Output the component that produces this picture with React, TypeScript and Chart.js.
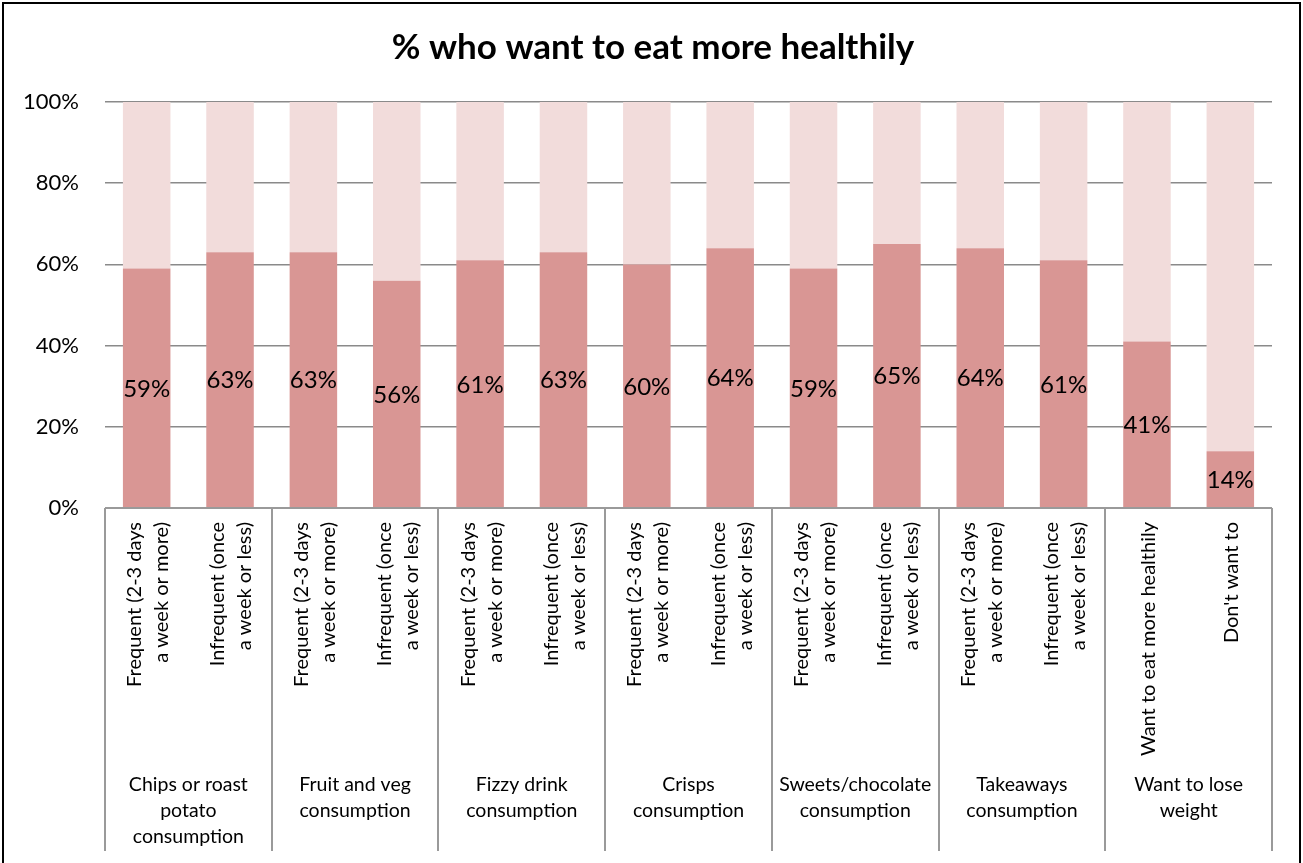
import React, { useEffect, useRef } from "react";
import { Chart, registerables } from "chart.js";

Chart.register(...registerables);

const chartTitle = "% who want to eat more healthily";

const categoryLabels: string[][] = [
  ["Frequent (2-3 days", "a week or more)"],
  ["Infrequent (once", "a week or less)"],
  ["Frequent (2-3 days", "a week or more)"],
  ["Infrequent (once", "a week or less)"],
  ["Frequent (2-3 days", "a week or more)"],
  ["Infrequent (once", "a week or less)"],
  ["Frequent (2-3 days", "a week or more)"],
  ["Infrequent (once", "a week or less)"],
  ["Frequent (2-3 days", "a week or more)"],
  ["Infrequent (once", "a week or less)"],
  ["Frequent (2-3 days", "a week or more)"],
  ["Infrequent (once", "a week or less)"],
  ["Want to eat more healthily"],
  ["Don't want to"],
];

const groupLabels: string[][] = [
  ["Chips or roast", "potato", "consumption"],
  ["Fruit and veg", "consumption"],
  ["Fizzy drink", "consumption"],
  ["Crisps", "consumption"],
  ["Sweets/chocolate", "consumption"],
  ["Takeaways", "consumption"],
  ["Want to lose", "weight"],
];

const groupSizes = [2, 2, 2, 2, 2, 2, 2];

const wantMore = [59, 63, 63, 56, 61, 63, 60, 64, 59, 65, 64, 61, 41, 14];
const notWant = [41, 37, 37, 44, 39, 37, 40, 36, 41, 35, 36, 39, 59, 86];

const yTicks = [0, 20, 40, 60, 80, 100];

const FONT = "Lato, 'Noto Sans', sans-serif";

const decorPlugin = {
  id: "decor",
  afterDatasetsDraw(chart: any) {
    const ctx = chart.ctx;
    const meta = chart.getDatasetMeta(0);
    ctx.save();
    ctx.fillStyle = "#000";
    ctx.font = `24px ${FONT}`;
    ctx.textAlign = "center";
    ctx.textBaseline = "middle";
    meta.data.forEach((bar: any, i: number) => {
      const y = (bar.y + bar.base) / 2;
      ctx.fillText(wantMore[i] + "%", bar.x, y + 1);
    });
    ctx.restore();
  },
  afterDraw(chart: any) {
    const ctx = chart.ctx;
    const area = chart.chartArea;
    const xs = chart.scales.x;
    ctx.save();

    // outer border
    ctx.strokeStyle = "#000";
    ctx.lineWidth = 2;
    ctx.beginPath();
    ctx.moveTo(3, 900);
    ctx.lineTo(3, 3);
    ctx.lineTo(1300, 3);
    ctx.lineTo(1300, 900);
    ctx.stroke();

    // title
    ctx.fillStyle = "#000";
    ctx.font = `bold 35px ${FONT}`;
    ctx.textAlign = "center";
    ctx.textBaseline = "middle";
    ctx.fillText(chartTitle, 653, 48);

    // category box
    const step = (area.right - area.left) / categoryLabels.length;
    const boxBottom = 851;
    ctx.strokeStyle = "#9a9a9a";
    ctx.lineWidth = 2;
    ctx.beginPath();
    ctx.moveTo(area.left, area.bottom);
    ctx.lineTo(area.right, area.bottom);
    let idx = 0;
    const bounds: number[] = [area.left];
    groupSizes.forEach((n) => {
      idx += n;
      bounds.push(area.left + idx * step);
    });
    bounds.forEach((bx) => {
      ctx.moveTo(Math.round(bx), area.bottom);
      ctx.lineTo(Math.round(bx), boxBottom);
    });
    ctx.stroke();

    // rotated category labels
    ctx.fillStyle = "#000";
    ctx.font = `20px ${FONT}`;
    ctx.textAlign = "right";
    ctx.textBaseline = "middle";
    categoryLabels.forEach((lines, i) => {
      const cx = xs.getPixelForValue(i) + 1.5;
      ctx.save();
      ctx.translate(cx, area.bottom + 14);
      ctx.rotate(-Math.PI / 2);
      const lh = 27;
      lines.forEach((line, j) => {
        const off = (j - (lines.length - 1) / 2) * lh;
        ctx.fillText(line, 0, off);
      });
      ctx.restore();
    });

    // group labels
    ctx.font = `19.5px ${FONT}`;
    ctx.textAlign = "center";
    ctx.textBaseline = "middle";
    groupLabels.forEach((lines, g) => {
      const cx = (bounds[g] + bounds[g + 1]) / 2;
      lines.forEach((line, j) => {
        ctx.fillText(line, cx, 785 + j * 26);
      });
    });

    ctx.restore();
  },
};

export default function App() {
  const ref = useRef<HTMLCanvasElement | null>(null);

  useEffect(() => {
    if (!ref.current) return;
    const chart = new Chart(ref.current, {
      type: "bar",
      data: {
        labels: categoryLabels.map((l) => l.join(" ")),
        datasets: [
          {
            label: "Want to eat more healthily",
            data: wantMore,
            backgroundColor: "#D99694",
            barPercentage: 0.57,
            categoryPercentage: 1,
          },
          {
            label: "Other",
            data: notWant,
            backgroundColor: "#F2DCDB",
            barPercentage: 0.57,
            categoryPercentage: 1,
          },
        ],
      },
      options: {
        responsive: false,
        animation: false,
        events: [],
        layout: {
          padding: { left: 0, right: 31, top: 102, bottom: 355 },
        },
        plugins: {
          legend: { display: false },
          title: { display: false },
          tooltip: { enabled: false },
        },
        scales: {
          x: {
            stacked: true,
            ticks: { display: false },
            grid: { display: false },
            border: { display: false },
            afterFit: (s: any) => {
              s.height = 0;
            },
          },
          y: {
            stacked: true,
            min: 0,
            max: 100,
            afterBuildTicks: (s: any) => {
              s.ticks = yTicks.map((v) => ({ value: v }));
            },
            afterFit: (s: any) => {
              s.width = 105;
            },
            ticks: {
              padding: 26,
              color: "#000",
              font: { family: FONT, size: 22 },
              callback: (v: any) => v + "%",
            },
            grid: {
              color: "#8a8a8a",
              lineWidth: 1.5,
              drawTicks: false,
            },
            border: { display: false },
          },
        },
      },
      plugins: [decorPlugin],
    });
    return () => chart.destroy();
  }, []);

  return (
    <div style={{ position: "absolute", left: 0, top: 0, width: 1303, height: 863, background: "#fff" }}>
      <canvas ref={ref} width={1303} height={863} style={{ display: "block" }} />
    </div>
  );
}
